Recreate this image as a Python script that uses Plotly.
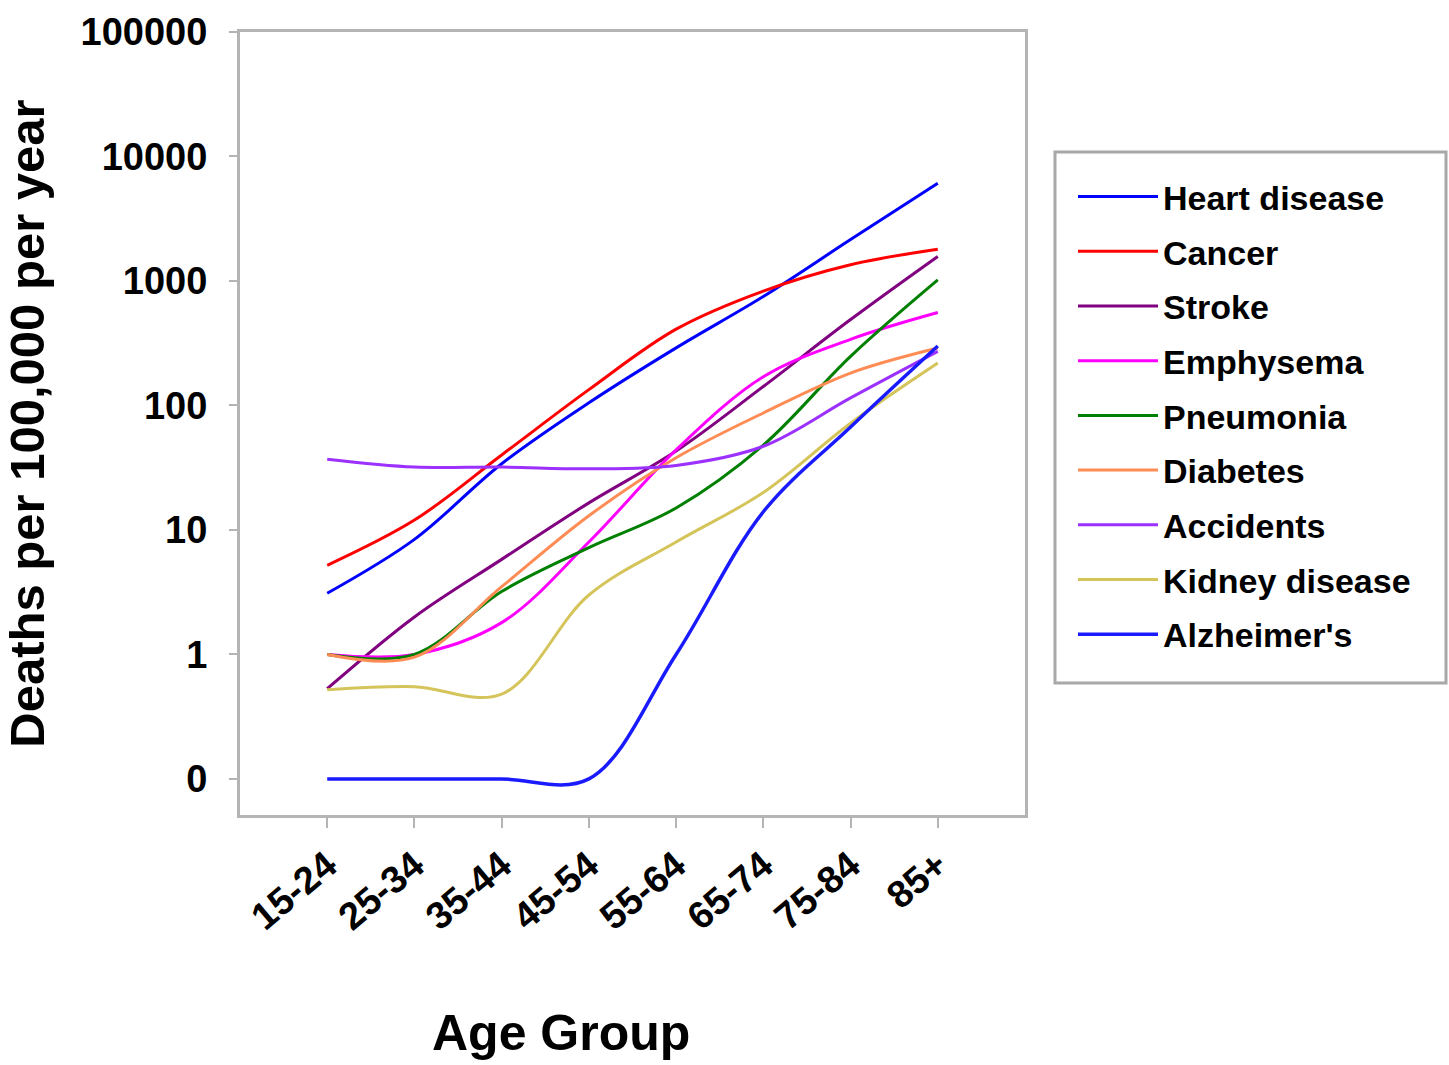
import plotly.graph_objects as go

ages = ["15-24", "25-34", "35-44", "45-54", "55-64", "65-74", "75-84", "85+"]

heart = [3.1, 8.4, 34, 105, 290, 750, 2150, 6100]
cancer = [5.2, 12.0, 40, 134, 410, 830, 1350, 1800]
stroke = [0.53, 2.0, 5.8, 16.5, 43, 142, 490, 1575]
emphysema = [1.0, 1.0, 1.8, 8.0, 44, 170, 340, 558]
pneumonia = [1.0, 1.0, 3.2, 7.2, 15, 48, 248, 1020]
diabetes = [1.0, 0.95, 3.5, 13, 38, 87, 182, 289]
accidents = [37, 32, 32, 31, 33, 47, 115, 272]
kidney = [0.52, 0.55, 0.48, 3.0, 8, 20, 72, 219]
alzheimers = [0.1, 0.1, 0.1, 0.1, 1.0, 14, 67, 300]

series_names = ["Heart disease", "Cancer", "Stroke", "Emphysema", "Pneumonia",
                "Diabetes", "Accidents", "Kidney disease", "Alzheimer's"]
series_values = [heart, cancer, stroke, emphysema, pneumonia,
                 diabetes, accidents, kidney, alzheimers]
series_colors = ["#0000FF", "#FF0000", "#800080", "#FF00FF", "#008000",
                 "#FF8C55", "#9B30FF", "#D4C45A", "#1A1AFF"]

y_tickvals = [0.1, 1, 10, 100, 1000, 10000, 100000]
y_ticktext = ["0", "1", "10", "100", "1000", "10000", "100000"]

fig = go.Figure()
for i, (name, vals, col) in enumerate(zip(series_names, series_values, series_colors)):
    fig.add_trace(go.Scatter(
        x=ages, y=vals, name=name, mode="lines",
        line=dict(color=col, width=3.5 if name == "Alzheimer's" else 3, shape="spline"),
        legendgroup=f"g{i}",
    ))

font_family = "Liberation Sans, Arial, sans-serif"
axis_grey = "#B4B4B4"

W, H = 1449, 1065
L, T = 240, 32
PW, PH = 785, 783
X0, Y1 = L, T + PH


def px_x(p):
    return (p - X0) / PW


def px_y(p):
    return (Y1 - p) / PH


fig.update_layout(
    width=W, height=H,
    margin=dict(l=L, r=W - L - PW, t=T, b=H - T - PH),
    paper_bgcolor="white", plot_bgcolor="white",
    font=dict(family=font_family, color="black"),
    showlegend=True,
    legend=dict(
        x=px_x(1073), y=px_y(168), xanchor="left", yanchor="top",
        borderwidth=0,
        font=dict(size=34, family=font_family, weight="bold"),
        tracegroupgap=7.5, itemwidth=80,
        bgcolor="rgba(0,0,0,0)",
    ),
    shapes=[dict(
        type="rect", xref="paper", yref="paper",
        x0=px_x(1055), x1=px_x(1446), y0=px_y(683), y1=px_y(152),
        line=dict(color="#A8A8A8", width=3), fillcolor="white", layer="below",
    )],
    xaxis=dict(
        type="category", range=[-1, 8],
        showline=True, linecolor=axis_grey, linewidth=3, mirror=True,
        ticks="outside", ticklen=10, tickcolor=axis_grey, tickwidth=2,
        tickangle=-40, showgrid=False, zeroline=False,
        tickfont=dict(size=38, family=font_family, weight="bold"),
    ),
    yaxis=dict(
        type="log", range=[-1.29, 5.0],
        tickvals=y_tickvals, ticktext=y_ticktext,
        showline=True, linecolor=axis_grey, linewidth=3, mirror=True,
        ticks="outside", ticklen=8, tickcolor=axis_grey, tickwidth=2,
        showgrid=False, zeroline=False,
        ticklabelstandoff=14,
        tickfont=dict(size=38, family=font_family, weight="bold"),
        title=dict(text="Deaths per 100,000 per year", standoff=24,
                   font=dict(size=49, family=font_family, weight="bold")),
    ),
    annotations=[dict(
        text="Age Group", xref="paper", yref="paper",
        x=px_x(561), y=px_y(1033),
        xanchor="center", yanchor="middle", showarrow=False,
        font=dict(size=50, family=font_family, weight="bold"),
    )],
)

fig.write_html(
    "out.html",
    config={"displayModeBar": False},
    post_script=(
        "document.documentElement.style.margin='0';"
        "document.documentElement.style.overflow='hidden';"
        "document.body.style.margin='0';"
        "document.body.style.overflow='hidden';"
    ),
)
